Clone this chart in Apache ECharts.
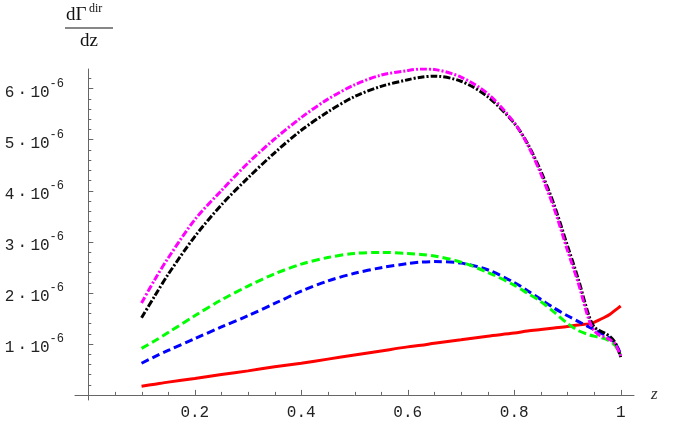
<!DOCTYPE html>
<html><head><meta charset="utf-8">
<script src="https://cdn.jsdelivr.net/npm/echarts@6/dist/echarts.min.js"></script>
<style>html,body{margin:0;padding:0;background:#fff}#c{width:682px;height:421px}</style>
</head><body><div id="c"></div>
<script>
// z values (shared by all curves)
const zValues = [0.1,0.125,0.15,0.2,0.25,0.3,0.35,0.4,0.45,0.5,0.55,0.6,0.625,0.65,0.7,0.75,0.8,0.825,0.85,0.875,0.9,0.92,0.94,0.95,0.96,0.97,0.98,0.99,1.0];
// dGamma/dz in units of 1e-6
const magentaVals = [1.80,2.26,2.68,3.43,4.00,4.54,5.01,5.43,5.79,6.07,6.26,6.35,6.38,6.37,6.22,5.90,5.33,4.90,4.33,3.65,2.83,2.20,1.48,1.26,1.17,1.13,1.08,0.99,0.76];
const blackVals   = [1.51,1.94,2.36,3.10,3.72,4.25,4.74,5.18,5.54,5.84,6.04,6.17,6.22,6.24,6.14,5.84,5.32,4.92,4.38,3.72,2.92,2.28,1.56,1.33,1.26,1.21,1.14,1.02,0.74];
const greenVals   = [0.91,1.06,1.22,1.55,1.86,2.13,2.37,2.56,2.69,2.77,2.79,2.77,2.75,2.72,2.60,2.40,2.15,1.99,1.83,1.62,1.40,1.26,1.18,1.15,1.13,1.10,1.05,0.96,0.77];
const blueVals    = [0.62,0.75,0.87,1.10,1.33,1.55,1.79,2.03,2.23,2.38,2.49,2.57,2.60,2.61,2.58,2.45,2.20,2.04,1.87,1.70,1.55,1.44,1.33,1.28,1.23,1.17,1.10,1.01,0.80];
const redVals     = [0.17,0.21,0.25,0.32,0.40,0.47,0.55,0.62,0.70,0.78,0.86,0.94,0.97,1.01,1.08,1.15,1.21,1.25,1.28,1.31,1.34,1.37,1.39,1.42,1.47,1.52,1.58,1.66,1.74];
// ticks
const xMajorTicks = [0.2,0.4,0.6,0.8,1];
const xMinorTicks = [0.05,0.1,0.15,0.25,0.3,0.35,0.45,0.5,0.55,0.65,0.7,0.75,0.85,0.9,0.95];
const yMajorTicks = [1,2,3,4,5,6];
const yMinorTicks = [0.2,0.4,0.6,0.8,1.2,1.4,1.6,1.8,2.2,2.4,2.6,2.8,3.2,3.4,3.6,3.8,4.2,4.4,4.6,4.8,5.2,5.4,5.6,5.8,6.2];

const pairs = vals => zValues.map((z, i) => [z, vals[i]]);
const X = {min: -0.025, max: 1.025};
const Y = {min: -0.1, max: 6.38};
const axisCol = '#666';
const tickCol = '#666';
const mono = 'Liberation Mono';

const chart = echarts.init(document.getElementById('c'), null, {renderer: 'canvas'});
const lineSeries = (vals, color, type) => ({
  type: 'line', data: pairs(vals), showSymbol: false, smooth: 0.3,
  animation: false, z: 3,
  lineStyle: {color: color, width: 3, type: type}
});
// tick marks drawn through the axis scales (custom series)
const tickSeries = (data, horizontal, len) => ({
  type: 'custom', coordinateSystem: 'cartesian2d', data: data, silent: true, animation: false, z: 2, clip: false,
  renderItem: (params, api) => {
    const p = api.coord([api.value(0), api.value(1)]);
    if (horizontal) {
      const y = Math.round(p[1]) + 0.5;
      return {type: 'line', shape: {x1: p[0], y1: y, x2: p[0] + len, y2: y},
              style: {stroke: tickCol, lineWidth: 1}};
    }
    const x = Math.round(p[0]) + 0.5;
    return {type: 'line', shape: {x1: x, y1: p[1], x2: x, y2: p[1] - len},
            style: {stroke: tickCol, lineWidth: 1}};
  }
});
chart.setOption({
  animation: false,
  backgroundColor: '#fff',
  grid: {left: 75, right: 48, top: 69, bottom: 18.5, containLabel: false},
  xAxis: {type: 'value', min: X.min, max: X.max, position: 'bottom',
     axisLine: {onZero: true, lineStyle: {color: axisCol, width: 1}},
     axisTick: {show: false},
     axisLabel: {customValues: xMajorTicks, margin: 5, fontFamily: mono, fontSize: 16, color: '#222',
       formatter: v => (v === 1 ? '1' : v.toFixed(1))},
     splitLine: {show: false},
     name: 'z', nameLocation: 'end', nameGap: 17,
     nameTextStyle: {fontFamily: 'Liberation Serif', fontStyle: 'italic', fontSize: 17, color: '#333', padding: [4, 0, 0, 0]}},
  yAxis: {type: 'value', min: Y.min, max: Y.max, position: 'left',
     axisLine: {onZero: true, lineStyle: {color: axisCol, width: 1}},
     axisTick: {show: false},
     axisLabel: {customValues: yMajorTicks, margin: 11, fontFamily: mono, fontSize: 16, color: '#222',
       formatter: v => '{a|' + v + '\u2009·\u200910}{b|-6}',
       rich: {
         a: {fontFamily: mono, fontSize: 16, color: '#222', padding: [8, 0, 0, 0]},
         b: {fontFamily: mono, fontSize: 12, color: '#222', padding: [0, 0, 10, 0]}
       }},
     splitLine: {show: false}},
  graphic: [
    {type: 'text', x: 66, y: 15, style: {text: 'dΓ', font: '19px "Liberation Serif"', fill: '#111', verticalAlign: 'middle'}},
    {type: 'text', x: 89, y: 9, style: {text: 'dir', font: '12px "Liberation Serif"', fill: '#111', verticalAlign: 'middle'}},
    {type: 'line', shape: {x1: 65, y1: 28, x2: 113, y2: 28}, style: {stroke: '#111', lineWidth: 1}},
    {type: 'text', x: 80, y: 41, style: {text: 'dz', font: '19px "Liberation Serif"', fill: '#111', verticalAlign: 'middle'}}
  ],
  series: [
    tickSeries(xMajorTicks.map(t => [t, 0]), false, 5),
    tickSeries(xMinorTicks.map(t => [t, 0]), false, 3),
    tickSeries(yMajorTicks.map(t => [0, t]), true, 5),
    tickSeries(yMinorTicks.map(t => [0, t]), true, 3),
    lineSeries(redVals, '#ff0000', 'solid'),
    lineSeries(blueVals, '#0000ff', [8, 4]),
    lineSeries(greenVals, '#00ff00', [8, 4]),
    lineSeries(blackVals, '#000000', [7, 2, 2, 2]),
    lineSeries(magentaVals, '#ff00ff', [7, 2, 2, 2])
  ]
});
</script></body></html>
